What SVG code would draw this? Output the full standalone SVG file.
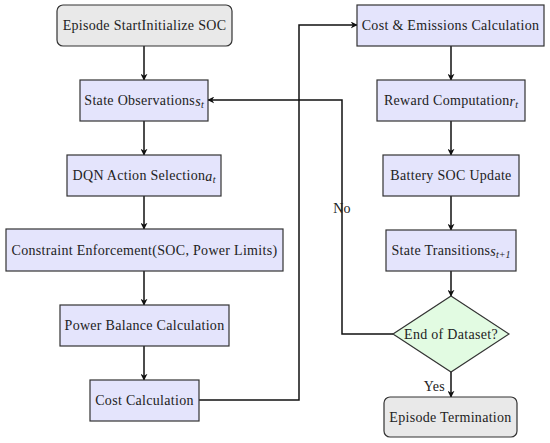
<svg xmlns="http://www.w3.org/2000/svg" width="550" height="443" viewBox="0 0 550 443">
<style>
.box{fill:#e4e4fc;stroke:#333;stroke-width:1.2}
.term{fill:#e9e9e9;stroke:#333;stroke-width:1.2}
.dec{fill:#e2fbe2;stroke:#333;stroke-width:1.2}
text{font-family:"Liberation Serif","DejaVu Serif",serif;font-size:14px;letter-spacing:0.3px;fill:#222;text-anchor:middle;dominant-baseline:central}
.it{font-style:italic}
.sub{font-size:10px;font-style:italic;letter-spacing:0}
.conn{fill:none;stroke:#111;stroke-width:1.5}
</style>
<defs>
<marker id="ah" viewBox="0 0 10 10" refX="9" refY="5" markerWidth="7" markerHeight="7" orient="auto" markerUnits="userSpaceOnUse">
<path d="M0,0 L10,5 L0,10 L3,5 Z" fill="#111"/>
</marker>
</defs>
<g id="connectors">
<line class="conn" x1="144" y1="46" x2="144" y2="80" marker-end="url(#ah)"/>
<line class="conn" x1="144" y1="121" x2="144" y2="155" marker-end="url(#ah)"/>
<line class="conn" x1="144" y1="196" x2="144" y2="229" marker-end="url(#ah)"/>
<line class="conn" x1="144" y1="271" x2="144" y2="305" marker-end="url(#ah)"/>
<line class="conn" x1="144" y1="346" x2="144" y2="380" marker-end="url(#ah)"/>
<polyline class="conn" points="199,400 299,400 299,25 357,25" marker-end="url(#ah)"/>
<line class="conn" x1="451" y1="46" x2="451" y2="80" marker-end="url(#ah)"/>
<line class="conn" x1="451" y1="121" x2="451" y2="155" marker-end="url(#ah)"/>
<line class="conn" x1="451" y1="196" x2="451" y2="230" marker-end="url(#ah)"/>
<line class="conn" x1="451" y1="271" x2="451" y2="296" marker-end="url(#ah)"/>
<polyline class="conn" points="393,334 342,334 342,100 208,100" marker-end="url(#ah)"/>
<line class="conn" x1="451" y1="372" x2="451" y2="397" marker-end="url(#ah)"/>
<text x="342" y="208">No</text>
<text x="445" y="386" style="text-anchor:end">Yes</text>
</g>
<g id="n1"><rect class="term" x="57" y="5" width="175" height="41" rx="6"/><text x="144.5" y="25.5">Episode StartInitialize SOC</text></g>
<g id="n2"><rect class="box" x="80" y="80" width="128" height="41"/><text x="144" y="100.5">State Observations<tspan class="it">s</tspan><tspan class="sub" dy="3">t</tspan></text></g>
<g id="n3"><rect class="box" x="67" y="155" width="154" height="41"/><text x="144" y="175.5">DQN Action Selection<tspan class="it">a</tspan><tspan class="sub" dy="3">t</tspan></text></g>
<g id="n4"><rect class="box" x="6" y="229" width="277" height="42"/><text x="144.5" y="250">Constraint Enforcement(SOC, Power Limits)</text></g>
<g id="n5"><rect class="box" x="60" y="305" width="169" height="41"/><text x="144.5" y="325.5">Power Balance Calculation</text></g>
<g id="n6"><rect class="box" x="90" y="380" width="109" height="41"/><text x="144.5" y="400.5">Cost Calculation</text></g>
<g id="r1"><rect class="box" x="357" y="5" width="187" height="41"/><text x="450.5" y="25.5">Cost &amp; Emissions Calculation</text></g>
<g id="r2"><rect class="box" x="377" y="80" width="148" height="41"/><text x="451" y="100.5">Reward Computation<tspan class="it">r</tspan><tspan class="sub" dy="3">t</tspan></text></g>
<g id="r3"><rect class="box" x="383" y="155" width="136" height="41"/><text x="451" y="175.5">Battery SOC Update</text></g>
<g id="r4"><rect class="box" x="386" y="230" width="130" height="41"/><text x="451" y="250.5">State Transitions<tspan class="it">s</tspan><tspan class="sub" dy="3">t+1</tspan></text></g>
<g id="d1"><polygon class="dec" points="451,296 509,334 451,372 393,334"/><text x="451" y="334">End of Dataset?</text></g>
<g id="r5"><rect class="term" x="384" y="397" width="133" height="40" rx="6"/><text x="450.5" y="417">Episode Termination</text></g>
</svg>
